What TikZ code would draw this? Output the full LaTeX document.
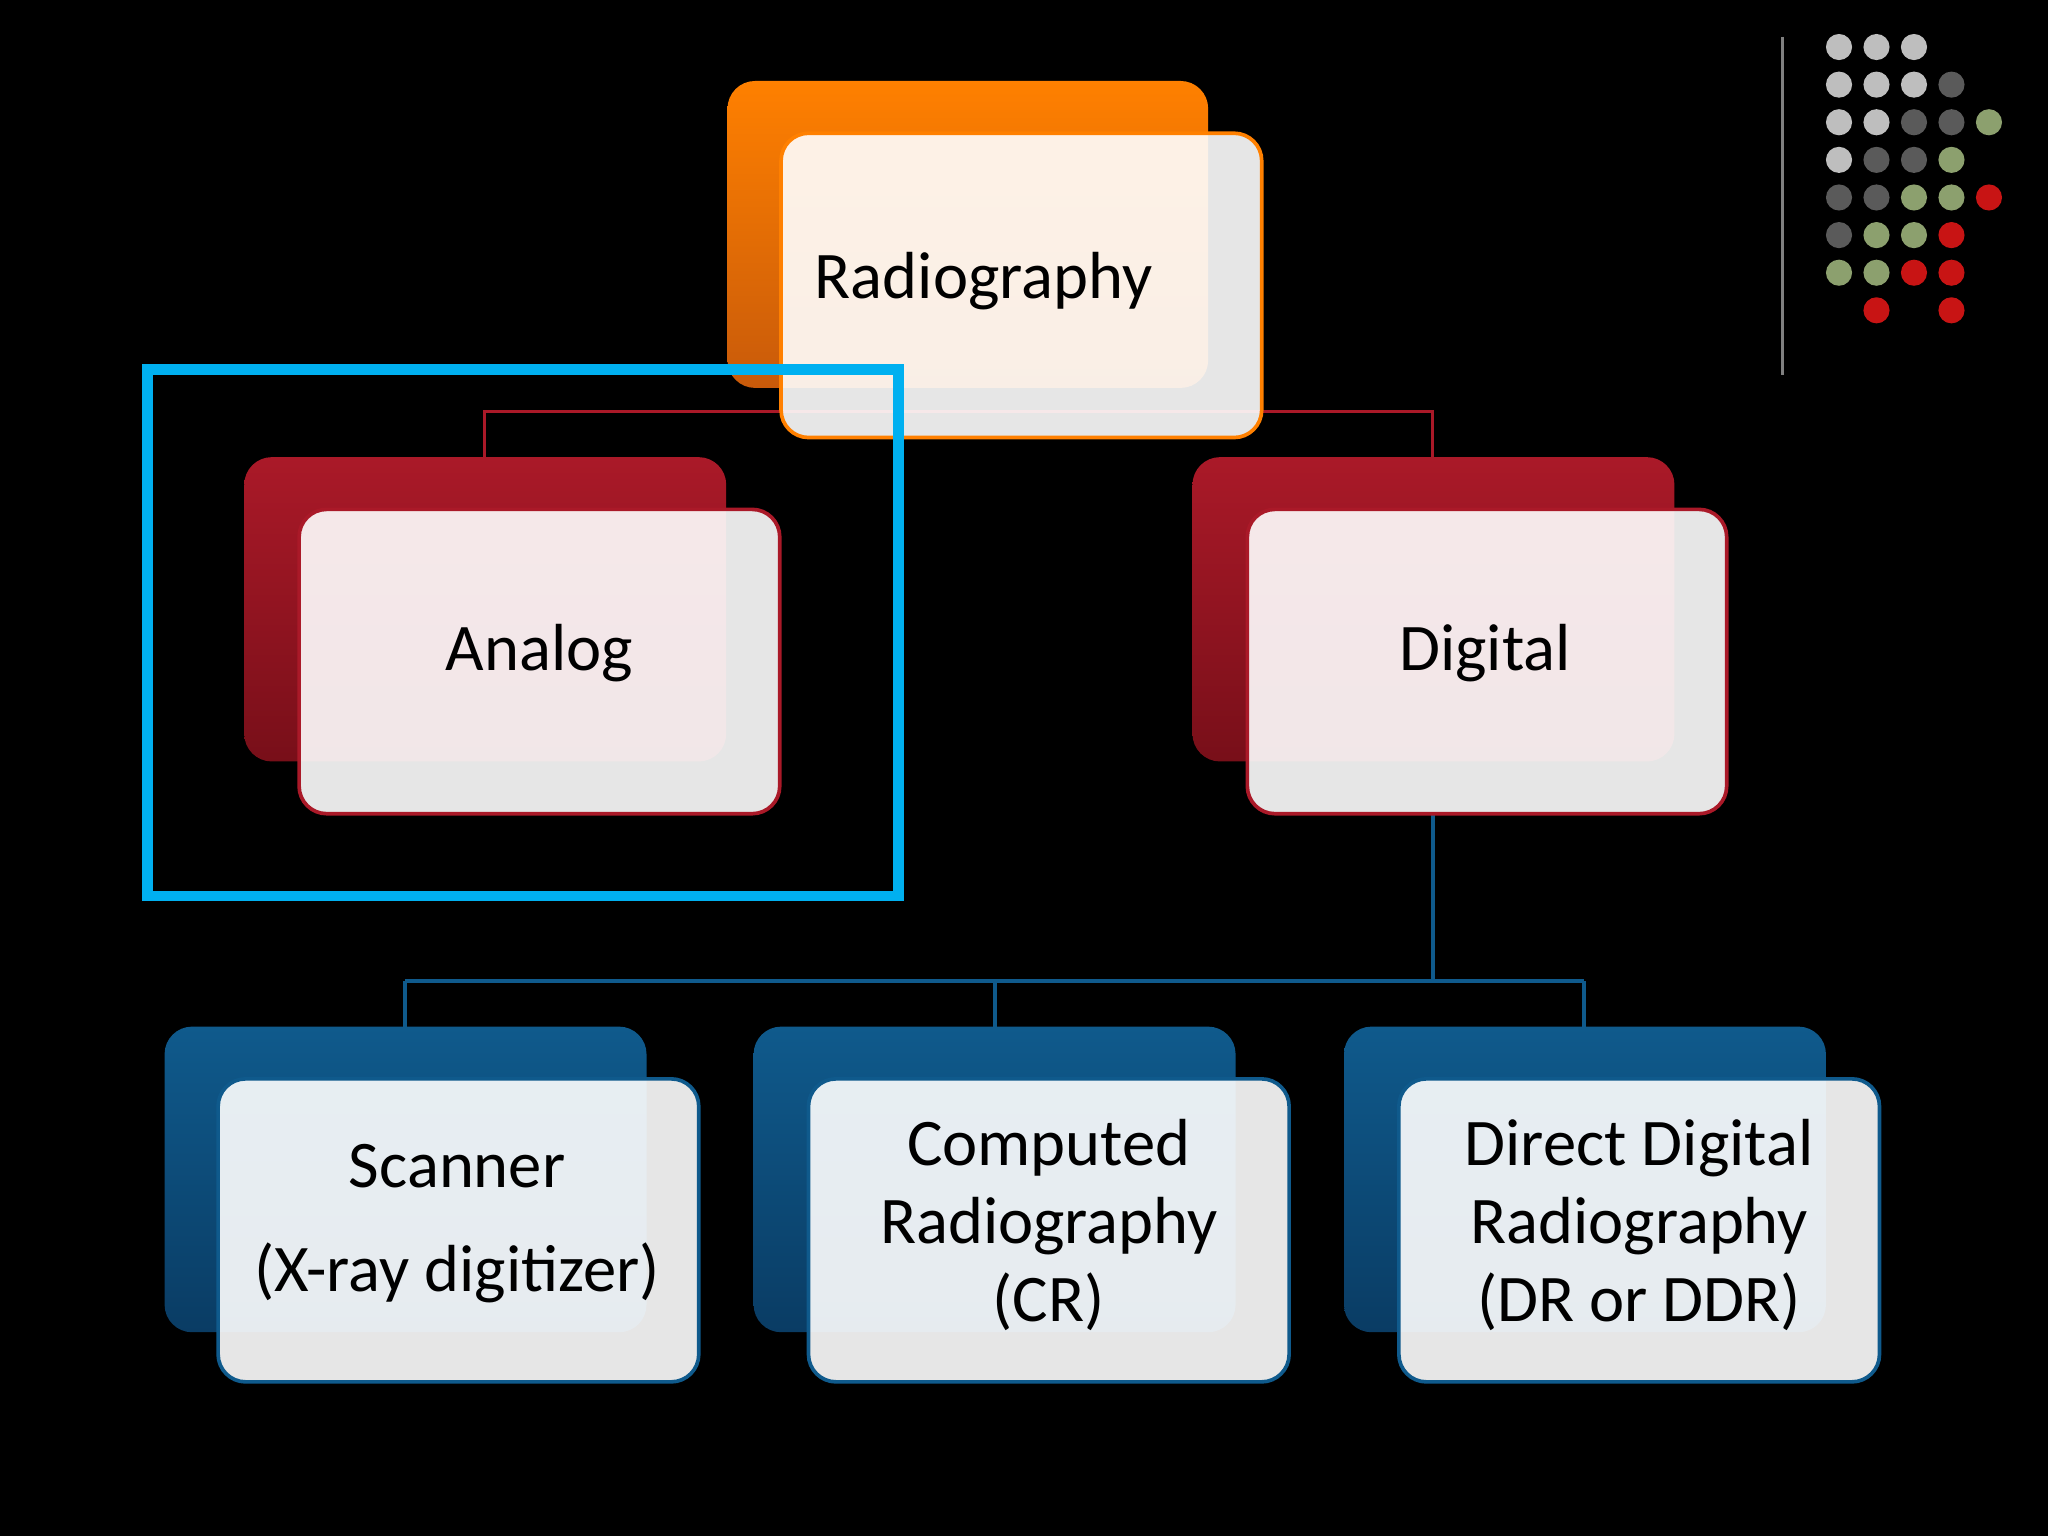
\documentclass[tikz,border=0pt]{standalone}
\usepackage{fontspec}
\setmainfont{Carlito}
\begin{document}
\begin{tikzpicture}[x=0.01cm,y=-0.01cm,
  back/.style={rounded corners=6pt},
  front/.style={rounded corners=6pt,fill=white,fill opacity=0.9,line width=0.8pt},
  lbl/.style={font=\fontsize{14.5}{17}\selectfont,text=black,align=center},
  dot/.style={circle,inner sep=0pt,minimum size=0.2cm}]
\fill[black] (0,0) rectangle (1568,1176);
\useasboundingbox (0,0) rectangle (1568,1176);
\definecolor{org}{RGB}{255,128,0}\definecolor{orgd}{RGB}{200,90,10}
\definecolor{rd}{RGB}{170,25,40}\definecolor{rdd}{RGB}{120,15,25}
\definecolor{bl}{RGB}{15,90,140}\definecolor{bld}{RGB}{10,60,100}
\definecolor{lg}{RGB}{190,190,190}\definecolor{dg}{RGB}{90,90,90}
\definecolor{gr}{RGB}{140,160,110}\definecolor{rr}{RGB}{200,20,20}
% connectors
\coordinate (ra) at (371,315); \coordinate (rb) at (1097,315);
\coordinate (ja) at (1097,751); \coordinate (jl) at (310,751); \coordinate (jr) at (1213,751); \coordinate (jm) at (762,751);
% back boxes
\shade[back,top color=org,bottom color=orgd] (557,62) rectangle (925,297);
\shade[back,top color=rd,bottom color=rdd] (187,350) rectangle (556,583);
\shade[back,top color=rd,bottom color=rdd] (913,350) rectangle (1282,583);
\foreach \x in {126,577,1029}{\shade[back,top color=bl,bottom color=bld] (\x,786) rectangle (\x+369,1020);}
\draw[rd,line width=0.6pt] (371,350) -- (ra) -- (rb) -- (1097,350);
\draw[bl,line width=0.8pt] (1097,623) -- (ja) (jl) -- (jr) (jl) -- (310,786) (jm) -- (762,786) (jr) -- (1213,786);
% front boxes
\draw[front,draw=org] (598,102) rectangle (966,335);
\draw[front,draw=rd] (229,390) rectangle (597,623);
\draw[front,draw=rd] (955,390) rectangle (1322,623);
\foreach \x in {167,619,1071}{\draw[front,draw=bl] (\x,826) rectangle (\x+368,1058);}
\node[lbl] (radio) at (753,215) {Radiography};
\node[lbl] (analog) at (413,500) {Analog};
\node[lbl] (digital) at (1137,500) {Digital};
\node[lbl] (scan) at (350,937) {Scanner\\[0.2cm](X-ray digitizer)};
\node[lbl] (cr) at (803,938) {Computed\\Radiography\\(CR)};
\node[lbl] (dr) at (1255,938) {Direct Digital\\Radiography\\(DR or DDR)};
% highlight
\draw[line width=2.3pt,color={rgb,255:red,0;green,176;blue,240}] (113,283) rectangle (688,686);
% decoration
\draw[gray,line width=0.6pt] (1365,28) -- (1365,287);
\foreach \c/\r/\col in {0/0/lg,1/0/lg,2/0/lg,
 0/1/lg,1/1/lg,2/1/lg,3/1/dg,
 0/2/lg,1/2/lg,2/2/dg,3/2/dg,4/2/gr,
 0/3/lg,1/3/dg,2/3/dg,3/3/gr,
 0/4/dg,1/4/dg,2/4/gr,3/4/gr,4/4/rr,
 0/5/dg,1/5/gr,2/5/gr,3/5/rr,
 0/6/gr,1/6/gr,2/6/rr,3/6/rr,
 1/7/rr,3/7/rr}
 {\fill[\col] ({1408+28.7*\c},{36+28.8*\r}) circle (10);}
\end{tikzpicture}
\end{document}
